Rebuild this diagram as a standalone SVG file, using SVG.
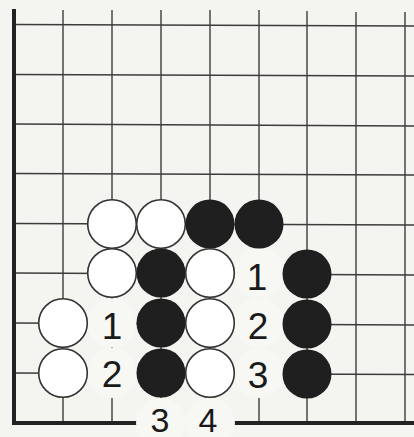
<svg xmlns="http://www.w3.org/2000/svg" width="414" height="437" viewBox="0 0 414 437">
<style>
.grid{stroke:#3c3c3c;stroke-width:1.4;fill:none}
.edge{stroke:#222;stroke-width:4;fill:none}
.lbg{fill:#f7f7f4}
.w{fill:#ffffff;stroke:#333;stroke-width:1.6}
.b{fill:#1f1f1f}
.num{font-family:"Liberation Sans",Arial,sans-serif;font-size:37px;fill:#1a1a1a;text-anchor:middle}
.numb{font-family:"Liberation Sans",Arial,sans-serif;font-size:34px;fill:#1a1a1a;text-anchor:middle}
</style>
<rect x="0" y="0" width="414" height="437" fill="#f4f4f1"/>
<g id="connectors">
  <g id="grid-v">
    <line class="grid" x1="63" y1="10" x2="63" y2="423"/>
    <line class="grid" x1="112" y1="10" x2="112" y2="423"/>
    <line class="grid" x1="161" y1="10" x2="161" y2="423"/>
    <line class="grid" x1="210" y1="10" x2="210" y2="423"/>
    <line class="grid" x1="259" y1="10" x2="259" y2="423"/>
    <line class="grid" x1="307" y1="11" x2="307" y2="423"/>
    <line class="grid" x1="356" y1="12" x2="356" y2="423"/>
    <line class="grid" x1="405" y1="12" x2="405" y2="423"/>
  </g>
  <g id="grid-h">
    <line class="grid" x1="14" y1="24.5" x2="414" y2="26"/>
    <line class="grid" x1="14" y1="74.5" x2="414" y2="76"/>
    <line class="grid" x1="14" y1="124" x2="414" y2="126"/>
    <line class="grid" x1="14" y1="173.5" x2="414" y2="175"/>
    <line class="grid" x1="14" y1="223.5" x2="414" y2="225"/>
    <line class="grid" x1="14" y1="273" x2="414" y2="275"/>
    <line class="grid" x1="14" y1="323" x2="414" y2="325"/>
    <line class="grid" x1="14" y1="373" x2="414" y2="374.5"/>
  </g>
  <line class="edge" x1="14" y1="9" x2="14" y2="425"/>
  <line class="edge" x1="12" y1="423" x2="414" y2="423"/>
</g>
<g id="label-backgrounds">
  <circle class="lbg" cx="112" cy="323" r="24.5"/>
  <circle class="lbg" cx="112" cy="373" r="25"/>
  <circle class="lbg" cx="259" cy="273" r="25"/>
  <circle class="lbg" cx="259" cy="323" r="25"/>
  <circle class="lbg" cx="259" cy="373" r="25"/>
  <circle class="lbg" cx="161" cy="423" r="25"/>
  <circle class="lbg" cx="210" cy="423" r="25"/>
</g>
<g id="stone-w-112-224"><circle class="w" cx="112" cy="224" r="24.3"/></g>
<g id="stone-w-161-224"><circle class="w" cx="161" cy="224" r="24.3"/></g>
<g id="stone-b-210-224"><circle class="b" cx="210" cy="224" r="24.5"/></g>
<g id="stone-b-259-224"><circle class="b" cx="259" cy="224" r="24.5"/></g>
<g id="stone-w-112-273"><circle class="w" cx="112" cy="273" r="24.3"/></g>
<g id="stone-b-161-273"><circle class="b" cx="161" cy="273" r="24.5"/></g>
<g id="stone-w-210-273"><circle class="w" cx="210" cy="273" r="24.3"/></g>
<g id="stone-b-307-274"><circle class="b" cx="307" cy="274" r="24.5"/></g>
<g id="stone-w-63-323"><circle class="w" cx="63" cy="323" r="24.3"/></g>
<g id="stone-b-161-323"><circle class="b" cx="161" cy="323" r="24.5"/></g>
<g id="stone-w-210-323"><circle class="w" cx="210" cy="323" r="24.3"/></g>
<g id="stone-b-307-324"><circle class="b" cx="307" cy="324" r="24.5"/></g>
<g id="stone-w-63-373"><circle class="w" cx="63" cy="373" r="24.3"/></g>
<g id="stone-b-161-373"><circle class="b" cx="161" cy="373" r="24.5"/></g>
<g id="stone-w-210-373"><circle class="w" cx="210" cy="373" r="24.3"/></g>
<g id="stone-b-307-374"><circle class="b" cx="307" cy="374" r="24.5"/></g>
<g id="labels">
  <text class="num" x="112" y="339">1</text>
  <text class="num" x="112" y="387">2</text>
  <text class="num" x="257" y="290">1</text>
  <text class="num" x="258" y="339">2</text>
  <text class="num" x="258" y="388">3</text>
  <text class="numb" x="160" y="432">3</text>
  <text class="numb" x="208" y="432">4</text>
</g>
</svg>
